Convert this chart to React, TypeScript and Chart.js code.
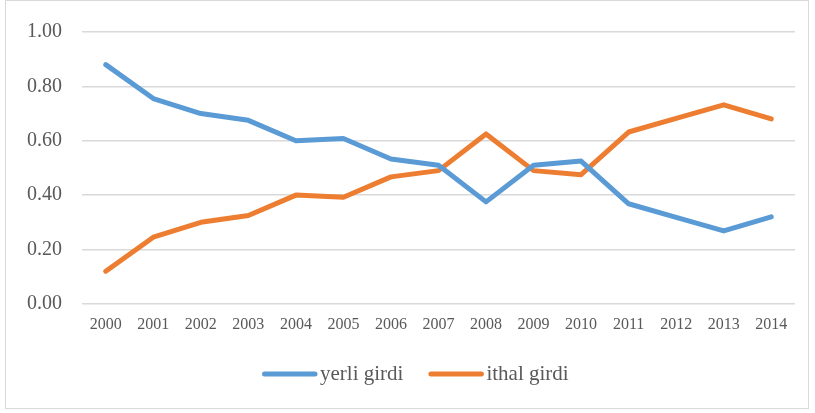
import React, { useEffect, useRef } from "react";
import { Chart, registerables } from "chart.js";

Chart.register(...registerables);

const years = ["2000","2001","2002","2003","2004","2005","2006","2007","2008","2009","2010","2011","2012","2013","2014"];
const yerliGirdi = [0.88, 0.755, 0.70, 0.675, 0.60, 0.608, 0.533, 0.51, 0.375, 0.51, 0.525, 0.368, 0.318, 0.268, 0.32];
const ithalGirdi = [0.12, 0.245, 0.30, 0.325, 0.40, 0.392, 0.467, 0.49, 0.625, 0.49, 0.475, 0.632, 0.682, 0.732, 0.68];

const FONT = "'Liberation Serif', serif";

const legendPlugin = {
  id: "serifLegend",
  afterDraw(chart: any) {
    const ctx = chart.ctx as CanvasRenderingContext2D;
    ctx.save();
    ctx.font = `21px ${FONT}`;
    ctx.textBaseline = "middle";
    ctx.textAlign = "left";
    let x = 262;
    const y = 374;
    chart.data.datasets.forEach((ds: any) => {
      ctx.strokeStyle = ds.borderColor;
      ctx.lineWidth = 5;
      ctx.lineCap = "round";
      ctx.beginPath();
      ctx.moveTo(x + 2.5, y);
      ctx.lineTo(x + 53, y);
      ctx.stroke();
      ctx.fillStyle = "#595959";
      ctx.fillText(ds.label, x + 58, y);
      x += 58 + ctx.measureText(ds.label).width + 25;
    });
    ctx.restore();
  },
};

export default function App() {
  const ref = useRef<HTMLCanvasElement>(null);
  useEffect(() => {
    const ctx = ref.current!;
    const chart = new Chart(ctx, {
      type: "line",
      data: {
        labels: years,
        datasets: [
          {
            label: "yerli girdi",
            data: yerliGirdi,
            borderColor: "#5B9BD5",
            backgroundColor: "#5B9BD5",
            borderWidth: 5,
            borderCapStyle: "round",
            borderJoinStyle: "round",
            pointRadius: 0,
            tension: 0,
          },
          {
            label: "ithal girdi",
            data: ithalGirdi,
            borderColor: "#ED7D31",
            backgroundColor: "#ED7D31",
            borderWidth: 5,
            borderCapStyle: "round",
            borderJoinStyle: "round",
            pointRadius: 0,
            tension: 0,
          },
        ],
      },
      plugins: [legendPlugin],
      options: {
        animation: false,
        responsive: false,
        maintainAspectRatio: false,
        layout: { padding: { top: 29, left: 0, right: 20, bottom: 68 } },
        plugins: {
          tooltip: { enabled: false },
          legend: { display: false },
        },
        scales: {
          x: {
            offset: true,
            grid: { display: false, offset: true, drawTicks: false },
            border: { display: false },
            ticks: { color: "#595959", font: { family: FONT, size: 16 }, padding: 11, maxRotation: 0 },
          },
          y: {
            min: 0,
            max: 1,
            afterFit: (scale: any) => { scale.width = 82; },
            grid: { color: "#d9d9d9", lineWidth: 1.5, drawTicks: false },
            border: { display: false },
            ticks: {
              stepSize: 0.2,
              padding: 20,
              color: "#595959",
              font: { family: FONT, size: 20 },
              callback: (v: any) => Number(v).toFixed(2),
            },
          },
        },
      },
    });
    return () => chart.destroy();
  }, []);
  return (
    <div style={{ position: "fixed", left: 0, top: 0, width: 815, height: 413, background: "#fff" }}>
      <canvas ref={ref} width={815} height={413} style={{ position: "absolute", left: 0, top: 0 }} />
      <div style={{ position: "absolute", left: 5, top: 0, width: 804, height: 409, border: "1.5px solid #d9d9d9", boxSizing: "border-box", pointerEvents: "none" }} />
    </div>
  );
}
